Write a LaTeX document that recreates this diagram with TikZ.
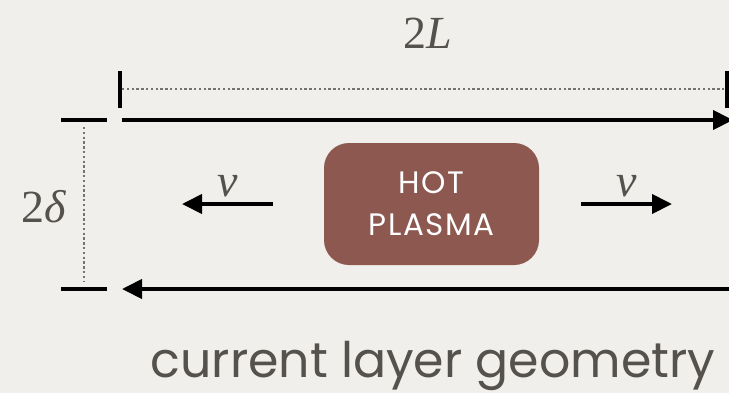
\documentclass[tikz,border=0pt]{standalone}
\usepackage{fontspec}
\setmainfont{Liberation Serif}
\newfontfamily\labelsans{Poppins}
\newfontfamily\boxsans[LetterSpace=5]{Poppins}
\usepackage{tikz}
\usetikzlibrary{arrows.meta, positioning}
\definecolor{paperbg}{RGB}{240, 239, 235}
\definecolor{plasmabrown}{RGB}{140, 88, 80}
\definecolor{inkgray}{RGB}{85, 81, 77}
\definecolor{guidegray}{RGB}{115, 115, 115}

\begin{document}
\begin{tikzpicture}[x=0.5pt, y=-0.5pt,
    flow/.style={line width=2pt, -{Triangle[length=10pt, width=9.5pt]}},
    tickbar/.style={line width=2pt},
    guide/.style={guidegray, line width=0.8pt, dash pattern=on 1.2pt off 1.2pt},
    mathlabel/.style={inkgray, font=\fontsize{23}{26}\selectfont},
    plasmabox/.style={fill=plasmabrown, rounded corners=12.5pt, minimum width=107.5pt, minimum height=61pt, align=center, text=white, font=\boxsans\fontsize{15.5}{21}\selectfont}]
    \fill[paperbg] (0,0) rectangle (729,393);
    \useasboundingbox (0,0) rectangle (729,393);
    \node[plasmabox] (plasma) at (431.5,204) {HOT\\PLASMA};
    \node[mathlabel] (lenlabel) at (428,33) {2\textit{L}};
    \node[mathlabel] (widlabel) at (44,207) {2\textit{δ}};
    \node[inkgray, font=\labelsans\fontsize{24.5}{28}\selectfont] (caption) at (433,366) {current layer geometry};
    % dimension marks
    \coordinate (lenL) at (120,89);
    \coordinate (lenR) at (727,89);
    \coordinate (widT) at (84,127);
    \coordinate (widB) at (84,282);
    \draw[tickbar] ([yshift=-9.25pt]lenL) -- ([yshift=9.25pt]lenL);
    \draw[tickbar] ([yshift=-9.25pt]lenR) -- ([yshift=9.25pt]lenR);
    \draw[guide] ([xshift=1pt]lenL) -- ([xshift=-1pt]lenR);
    \draw[guide] (widT) -- (widB);
    \coordinate (topL) at (61,120);
    \coordinate (botL) at (61,289);
    \draw[tickbar] (topL) -- ++(46,0);
    \draw[tickbar] (botL) -- ++(46,0);
    % current sheets
    \coordinate (topstart) at (122,120);
    \coordinate (topend) at (733,120);
    \coordinate (botstart) at (735,289);
    \coordinate (botend) at (122,289);
    \draw[flow] (topstart) -- (topend);
    \draw[flow] (botstart) -- (botend);
    % outflows
    \coordinate (vleftA) at (273,204);
    \coordinate (vleftB) at (182,204);
    \coordinate (vrightA) at (581,204);
    \coordinate (vrightB) at (672,204);
    \draw[flow] (vleftA) -- node[mathlabel, above=-1pt] (vleft) {\textit{v}} (vleftB);
    \draw[flow] (vrightA) -- node[mathlabel, above=-1pt] (vright) {\textit{v}} (vrightB);
\end{tikzpicture}
\end{document}
